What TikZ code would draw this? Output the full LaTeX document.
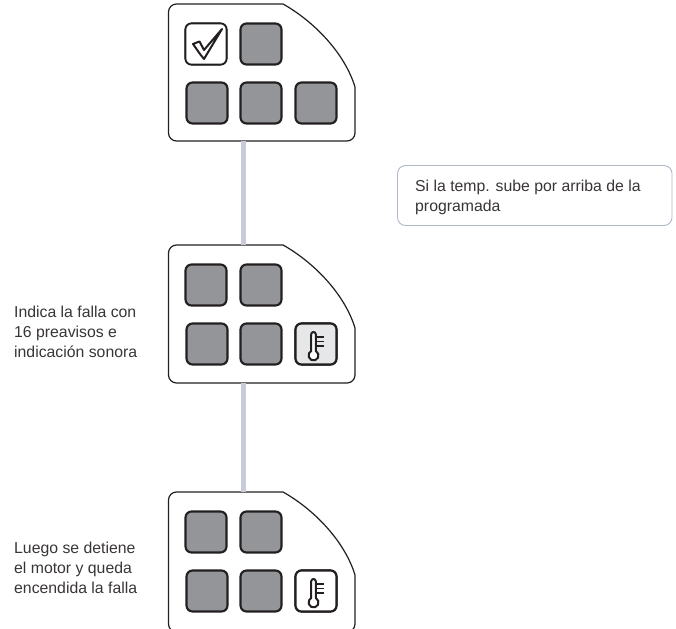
\documentclass[tikz,border=0pt]{standalone}
\usepackage{fontspec}
\setmainfont{Liberation Sans}
\definecolor{grisBoton}{RGB}{147,149,152}
\definecolor{lilaLinea}{RGB}{201,202,217}
\definecolor{bordeNota}{RGB}{176,184,198}
\definecolor{tinta}{RGB}{35,31,32}
\definecolor{grisClaro}{RGB}{230,231,232}
\usetikzlibrary{calc,positioning}
\tikzstyle{panel}  =[draw=tinta, line width=1.2pt, fill=white]
\tikzstyle{boton}  =[rectangle, rounded corners=6pt, draw=tinta, line width=2.1pt,
                    minimum size=41pt, inner sep=0pt, fill=grisBoton]
\tikzstyle{enlace} =[draw=lilaLinea, line width=4.5pt]
\tikzstyle{icono}  =[draw=tinta, line width=2pt, line join=round]
\tikzstyle{texto}  =[font=\fontsize{15.8}{19.8}\selectfont, align=left, text=tinta!90,
                    inner sep=0pt, anchor=north west]
\begin{document}
\begin{tikzpicture}[x=1pt,y=-1pt]
    \useasboundingbox (0,0) rectangle (676,628);
    \clip (0,0) rectangle (676,628);

    % paneles
    \foreach \p/\y/\h in {a/4/137,b/245/138,c/492/140} {
        \begin{scope}[shift={(0,\y)}]
            \coordinate (\p top) at (243.5,0);
            \coordinate (\p bot) at (243.5,\h);
            \draw [panel] (168.5,8) arc (180:270:8) -- (283,0)
                .. controls (315,18) and (345,50) .. (355,83)
                -- (355,\h-8) arc (0:90:8) -- (176.5,\h) arc (90:180:8) -- cycle;
            \node (\p1) [boton] at (206,40) {};
            \node (\p2) [boton] at (261,40) {};
            \node (\p3) [boton] at (207,99) {};
            \node (\p4) [boton] at (261,99) {};
            \node (\p5) [boton] at (316,99) {};
        \end{scope}
    }

    \foreach \i/\j in {abot/btop,bbot/ctop}
        \draw [enlace] (\i) to (\j);

    % iconos
    \node (ok) [boton,fill=white,line width=1.6pt] at (206,44) {};
    \draw [icono,fill=white] ($(ok)+(-13,0)$) -- ($(ok)+(-6.5,-2.5)$) -- ($(ok)+(-2,6)$)
        -- ($(ok)+(16,-15)$) -- ($(ok)+(-2,15)$) -- ($(ok)+(-6,10)$) -- cycle;

    \node (termB) [boton,fill=grisClaro] at (316,344) {};
    \node (termC) [boton,fill=white] at (316,591) {};
    \foreach \t in {termB,termC} {
        \draw [icono,fill=white] ($(\t)+(-4.8,7)$) -- ($(\t)+(-4.8,-9.7)$)
            arc (180:360:2.3) -- ($(\t)+(-0.2,7)$) arc (-63:243:5) -- cycle;
        \foreach \d in {-7,-2.7,1.7}
            \draw [icono,line width=1.6pt] ($(\t)+(0.5,\d)$) -- ($(\t)+(8.3,\d)$);
    }

    % textos
    \draw [draw=bordeNota, line width=0.9pt, rounded corners=8pt, fill=white]
        (397.5,165.5) rectangle (672,225.5);
    \node (nota) [texto] at (415,180) {Si la temp. sube por arriba de la\\programada};
    \node (falla) [texto] at (14,306) {Indica la falla con\\16 preavisos e\\indicación sonora};
    \node (motor) [texto] at (14,542) {Luego se detiene\\el motor y queda\\encendida la falla};
\end{tikzpicture}
\end{document}
